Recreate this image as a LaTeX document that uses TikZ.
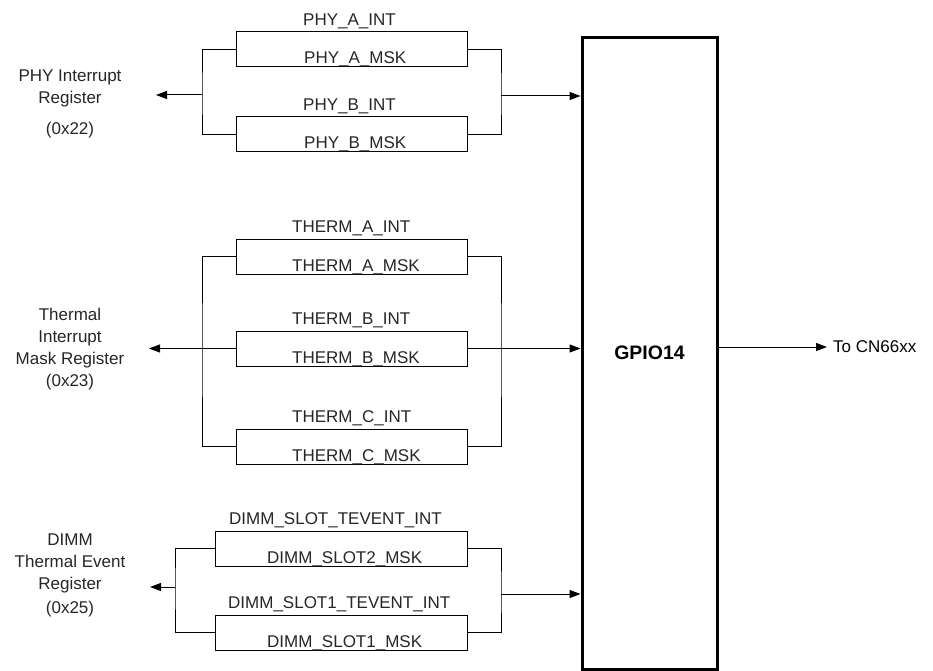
\documentclass[tikz,border=0pt]{standalone}
\usepackage{fontspec}
\setmainfont{Liberation Sans}
\usetikzlibrary{arrows.meta}
\definecolor{inktext}{gray}{0.15}
\begin{document}
\begin{tikzpicture}[x=1pt,y=-1pt,
  txt/.style={inner sep=0pt, text=inktext, font=\fontsize{17}{22}\selectfont},
  lbl/.style={txt, anchor=base west},
  regbox/.style={draw, line width=1pt, inner sep=0pt, minimum height=35pt},
  widebox/.style={regbox, minimum width=231pt},
  dimmbox/.style={regbox, minimum width=252pt},
  wire/.style={line width=1pt},
  arr/.style={wire, -{Triangle[length=11pt,width=8pt]}},
  side/.style={txt, align=center},
]
\useasboundingbox (0,0) rectangle (933,671);

% GPIO block
\node[draw, line width=3pt, minimum width=135pt, minimum height=631pt, inner sep=0pt]
  (gpio) at (649.5,353.5) {};
\node[txt, text=black, font=\fontsize{19.5}{22}\selectfont\bfseries] (gpiot) at (649.5,353) {GPIO14};
\coordinate (outtip) at (827,347);
\draw[arr] (gpio.east |- outtip) -- (outtip);
\node[txt, text=black, anchor=west] (cn) at (833,347) {To CN66xx};

% ---------- PHY group ----------
\node[widebox] (pa) at (351.5,49.5) {};
\node[widebox] (pb) at (351.5,134.5) {};
\node[lbl] (paint) at (303,25.5) {PHY\_A\_INT};
\node[lbl] (pamsk) at (304,64) {PHY\_A\_MSK};
\node[lbl] (pbint) at (303,110.5) {PHY\_B\_INT};
\node[lbl] (pbmsk) at (304,149) {PHY\_B\_MSK};
\coordinate (phyL) at (202,95);
\coordinate (phyR) at (501,96);
\coordinate (phyTip) at (156,95);
\draw[wire] (pa.west) -| (phyL) |- (pb.west);
\draw[arr] (phyL) -- (phyTip);
\draw[wire] (pa.east) -| (phyR) |- (pb.east);
\draw[arr] (phyR) -- (gpio.west |- phyR);
\node[side] (phyreg) at (70,104) {PHY Interrupt\\Register\\[9pt](0x22)};

% ---------- Thermal group ----------
\node[widebox] (ta) at (351.5,256.5) {};
\node[widebox] (tb) at (351.5,348.5) {};
\node[widebox] (tc) at (351.5,446.5) {};
\node[lbl] (taint) at (292,232.5) {THERM\_A\_INT};
\node[lbl] (tamsk) at (292,271) {THERM\_A\_MSK};
\node[lbl] (tbint) at (292,324.5) {THERM\_B\_INT};
\node[lbl] (tbmsk) at (292,363) {THERM\_B\_MSK};
\node[lbl] (tcint) at (292,422.5) {THERM\_C\_INT};
\node[lbl] (tcmsk) at (292,461) {THERM\_C\_MSK};
\coordinate (thL) at (202,348.5);
\coordinate (thR) at (501,348.5);
\coordinate (thTip) at (149,348.5);
\draw[wire] (ta.west) -| (thL) |- (tc.west);
\draw[arr] (tb.west) -- (thTip);
\draw[wire] (ta.east) -| (thR) |- (tc.east);
\draw[arr] (tb.east) -- (gpio.west |- tb.east);
\node[side] (threg) at (70,349.5) {Thermal\\Interrupt\\Mask Register\\(0x23)};

% ---------- DIMM group ----------
\node[dimmbox] (da) at (341,548.5) {};
\node[dimmbox] (db) at (341,632.5) {};
\node[lbl] (daint) at (229,524.5) {DIMM\_SLOT\_TEVENT\_INT};
\node[lbl] (damsk) at (267,563) {DIMM\_SLOT2\_MSK};
\node[lbl] (dbint) at (228,608.5) {DIMM\_SLOT1\_TEVENT\_INT};
\node[lbl] (dbmsk) at (267,647) {DIMM\_SLOT1\_MSK};
\coordinate (dL) at (175,587);
\coordinate (dR) at (501,594);
\coordinate (dTip) at (150,587);
\draw[wire] (da.west) -| (dL) |- (db.west);
\draw[arr] (dL) -- (dTip);
\draw[wire] (da.east) -| (dR) |- (db.east);
\draw[arr] (dR) -- (gpio.west |- dR);
\node[side] (dreg) at (70,575) {DIMM\\Thermal Event\\Register\\[2pt](0x25)};
\end{tikzpicture}
\end{document}
